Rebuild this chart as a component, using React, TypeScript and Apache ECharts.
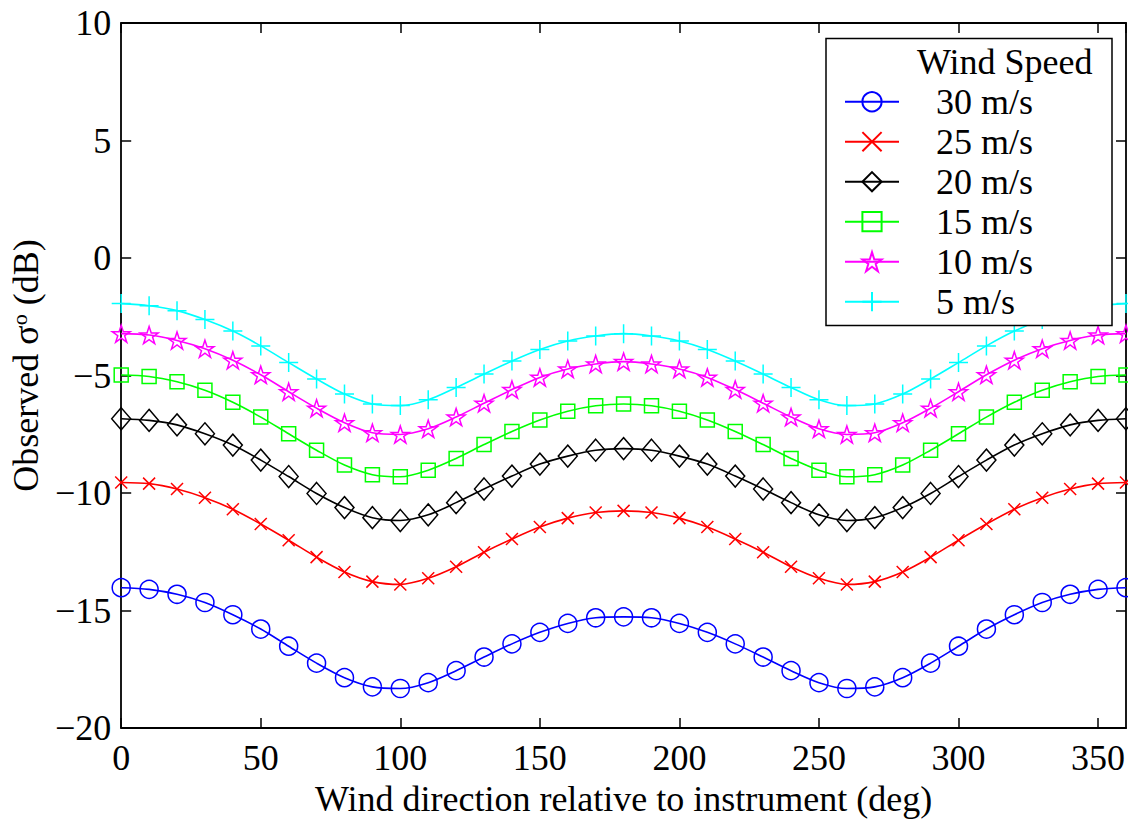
import React, { useEffect, useRef } from 'react';
import * as echarts from 'echarts';

const DIRECTIONS = [0, 10, 20, 30, 40, 50, 60, 70, 80, 90, 100, 110, 120, 130, 140, 150, 160, 170, 180,
  190, 200, 210, 220, 230, 240, 250, 260, 270, 280, 290, 300, 310, 320, 330, 340, 350, 360];

const WS30 = [-14.03, -14.10, -14.31, -14.66, -15.18, -15.79, -16.52, -17.24, -17.86, -18.25, -18.32, -18.07, -17.56, -16.98, -16.42, -15.93, -15.55, -15.31, -15.27,
  -15.31, -15.55, -15.93, -16.42, -16.98, -17.56, -18.07, -18.32, -18.25, -17.86, -17.24, -16.52, -15.79, -15.18, -14.66, -14.31, -14.10, -14.03];
const WS25 = [-9.55, -9.60, -9.83, -10.20, -10.69, -11.32, -12.01, -12.73, -13.36, -13.77, -13.89, -13.63, -13.14, -12.52, -11.96, -11.45, -11.07, -10.83, -10.76,
  -10.83, -11.07, -11.45, -11.96, -12.52, -13.14, -13.63, -13.89, -13.77, -13.36, -12.73, -12.01, -11.32, -10.69, -10.20, -9.83, -9.60, -9.55];
const WS20 = [-6.84, -6.91, -7.10, -7.48, -7.96, -8.60, -9.30, -10.02, -10.62, -11.05, -11.17, -10.93, -10.41, -9.83, -9.28, -8.77, -8.43, -8.18, -8.11,
  -8.18, -8.43, -8.77, -9.28, -9.83, -10.41, -10.93, -11.17, -11.05, -10.62, -10.02, -9.30, -8.60, -7.96, -7.48, -7.10, -6.91, -6.84];
const WS15 = [-4.98, -5.04, -5.27, -5.63, -6.14, -6.77, -7.48, -8.18, -8.81, -9.22, -9.31, -9.03, -8.53, -7.94, -7.38, -6.89, -6.52, -6.29, -6.21,
  -6.29, -6.52, -6.89, -7.38, -7.94, -8.53, -9.03, -9.31, -9.22, -8.81, -8.18, -7.48, -6.77, -6.14, -5.63, -5.27, -5.04, -4.98];
const WS10 = [-3.22, -3.28, -3.51, -3.86, -4.35, -4.97, -5.69, -6.39, -7.01, -7.44, -7.51, -7.27, -6.77, -6.18, -5.60, -5.08, -4.72, -4.51, -4.41,
  -4.51, -4.72, -5.08, -5.60, -6.18, -6.77, -7.27, -7.51, -7.44, -7.01, -6.39, -5.69, -4.97, -4.35, -3.86, -3.51, -3.28, -3.22];
const WS5 = [-1.94, -2.03, -2.24, -2.62, -3.11, -3.74, -4.45, -5.15, -5.79, -6.21, -6.28, -6.03, -5.51, -4.94, -4.38, -3.89, -3.53, -3.32, -3.22,
  -3.32, -3.53, -3.89, -4.38, -4.94, -5.51, -6.03, -6.28, -6.21, -5.79, -5.15, -4.45, -3.74, -3.11, -2.62, -2.24, -2.03, -1.94];

const SERIES_NAMES = ['30 m/s', '25 m/s', '20 m/s', '15 m/s', '10 m/s', '5 m/s'];
const SERIES_VALUES = [WS30, WS25, WS20, WS15, WS10, WS5];
const SERIES_COLORS = ['#0000ff', '#ff0000', '#000000', '#00ff00', '#ff00ff', '#00ffff'];
const LEGEND_TITLE = 'Wind Speed';
const X_TITLE = 'Wind direction relative to instrument (deg)';

const CROSS = 'path://M0 0 L100 100 M100 0 L0 100';
const PLUS = 'path://M50 0 L50 100 M0 50 L100 50';
const STAR = 'path://M50 0 L61.2 34.5 L97.6 34.5 L68.2 55.9 L79.4 90.5 L50 69.1 L20.6 90.5 L31.8 55.9 L2.4 34.5 L38.8 34.5 Z';
const SYMBOLS: any[] = ['circle', CROSS, 'diamond', 'rect', STAR, PLUS];
const SIZES: any[] = [18, 12, [19, 22], 14, 18, 19];

const FONT = 'Liberation Serif';

export default function App() {
  const ref = useRef<HTMLDivElement>(null);
  useEffect(() => {
    const chart = echarts.init(ref.current!, null, { renderer: 'svg' });
    const minus = (v: number) => String(v).replace('-', '\u2212');
    const axisLineStyle = { color: '#000', width: 1.8 };
    const tick = { show: true, inside: true, length: 10, lineStyle: { color: '#000', width: 1.5 } };
    const option: any = {
      animation: false,
      backgroundColor: '#fff',
      grid: { left: 119, right: 1, top: 23, bottom: 89 },
      xAxis: [
        {
          type: 'value', min: 0, max: 360, interval: 50, position: 'bottom',
          axisLine: { show: true, onZero: false, lineStyle: axisLineStyle },
          axisTick: tick,
          axisLabel: { color: '#000', fontFamily: FONT, fontSize: 36, margin: 12, showMaxLabel: false },
          splitLine: { show: false },
          name: X_TITLE, nameLocation: 'middle', nameGap: 53,
          nameTextStyle: { color: '#000', fontFamily: FONT, fontSize: 36 },
        },
        {
          type: 'value', min: 0, max: 360, interval: 50, position: 'top',
          axisLine: { show: true, onZero: false, lineStyle: axisLineStyle },
          axisTick: tick,
          axisLabel: { show: false }, splitLine: { show: false },
        },
      ],
      yAxis: [
        {
          type: 'value', min: -20, max: 10, interval: 5, position: 'left',
          axisLine: { show: true, onZero: false, lineStyle: axisLineStyle },
          axisTick: tick,
          axisLabel: { color: '#000', fontFamily: FONT, fontSize: 36, margin: 10, formatter: minus },
          splitLine: { show: false },
          name: 'Observed σ{sup|o} (dB)', nameLocation: 'middle', nameGap: 76, nameRotate: 90,
          nameTextStyle: {
            color: '#000', fontFamily: FONT, fontSize: 36, padding: [0, 0, 0, 20],
            rich: { sup: { fontFamily: FONT, fontSize: 22, color: '#000', verticalAlign: 'top', lineHeight: 36 } },
          },
        },
        {
          type: 'value', min: -20, max: 10, interval: 5, position: 'right',
          axisLine: { show: true, onZero: false, lineStyle: axisLineStyle },
          axisTick: tick,
          axisLabel: { show: false }, splitLine: { show: false },
        },
      ],
      legend: {
        orient: 'vertical', left: 844, top: 83.7, padding: 0,
        itemWidth: 54, itemHeight: 24, itemGap: 4,
        data: SERIES_NAMES,
        textStyle: { color: '#000', fontFamily: FONT, fontSize: 36, lineHeight: 36, padding: [0, 0, 0, 32] },
        zlevel: 0, z: 10,
      },
      graphic: [
        {
          type: 'rect', z: 8, zlevel: 0,
          shape: { x: 826, y: 38.5, width: 286, height: 287 },
          style: { fill: '#fff', stroke: '#000', lineWidth: 1.5 },
        },
        {
          type: 'text', z: 9, zlevel: 0, x: 917, y: 62,
          style: { text: LEGEND_TITLE, fontFamily: FONT, fontSize: 36, fill: '#000', verticalAlign: 'middle', align: 'left' },
        },
      ],
      series: SERIES_NAMES.map((name, i) => ({
        name,
        type: 'line',
        smooth: 0.3,
        color: SERIES_COLORS[i],
        data: DIRECTIONS.map((d, j) => [d, SERIES_VALUES[i][j]]),
        symbol: SYMBOLS[i],
        symbolSize: SIZES[i],
        symbolKeepAspect: true,
        showAllSymbol: true,
        lineStyle: { color: SERIES_COLORS[i], width: 1.6 },
        itemStyle: { color: 'rgba(0,0,0,0)', borderColor: SERIES_COLORS[i], borderWidth: 1.5 },
        clip: true,
      })),
    };
    chart.setOption(option);
    return () => chart.dispose();
  }, []);
  return <div ref={ref} style={{ position: 'fixed', left: 0, top: 0, width: 1128, height: 822, background: '#fff' }} />;
}
